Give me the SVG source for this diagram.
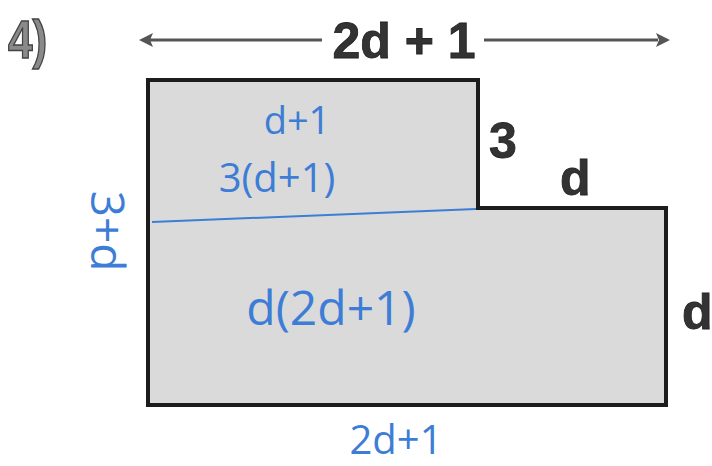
<svg xmlns="http://www.w3.org/2000/svg" width="712" height="466" viewBox="0 0 712 466">
  <style>
    .print { font-family: "Liberation Sans", Arial, sans-serif; font-weight: bold; fill: #333; stroke: #222; stroke-width: 0.8; }
    .hand { font-family: "Open Sans", "DejaVu Sans", sans-serif; fill: #3d7dd6; text-anchor: middle; }
    .outline { fill: #dadada; stroke: #1c1c1c; stroke-width: 4; stroke-linejoin: miter; }
    .dim { stroke: #555; stroke-width: 3; fill: none; }
  </style>
  <rect width="712" height="466" fill="#ffffff"/>

  <g id="label-4">
    <text class="print" x="8" y="58" font-size="54" transform="translate(8 0) scale(0.82 1) translate(-8 0)" style="fill:#8a8a8a;stroke:#444;stroke-width:1.5">4)</text>
  </g>

  <g id="connectors">
    <line class="dim" x1="150" y1="40" x2="322" y2="40"/>
    <polygon points="139,40 153,33 150,40 153,47" fill="#555"/>
    <line class="dim" x1="484" y1="40" x2="658" y2="40"/>
    <polygon points="670,40 656,33 659,40 656,47" fill="#555"/>
  </g>

  <g id="top-label">
    <text class="print" x="404" y="58" font-size="50" text-anchor="middle">2d + 1</text>
  </g>

  <g id="shape">
    <path class="outline" d="M148,80 H478 V208 H666 V405 H148 Z"/>
    <path d="M152,222 Q320,215 476,209" stroke="#3d7dd6" stroke-width="2" fill="none"/>
  </g>

  <g id="side-labels">
    <text class="print" x="489" y="158" font-size="50">3</text>
    <text class="print" x="560" y="195" font-size="50">d</text>
    <text class="print" x="682" y="329" font-size="50">d</text>
  </g>

  <g id="handwritten">
    <text class="hand" x="297" y="134" font-size="38">d+1</text>
    <text class="hand" x="277" y="192" font-size="40">3(d+1)</text>
    <text class="hand" font-size="46" transform="translate(91 231) rotate(90)">3+d</text>
    <text class="hand" x="331" y="325" font-size="48">d(2d+1)</text>
    <text class="hand" x="396" y="454" font-size="40">2d+1</text>
  </g>
</svg>
